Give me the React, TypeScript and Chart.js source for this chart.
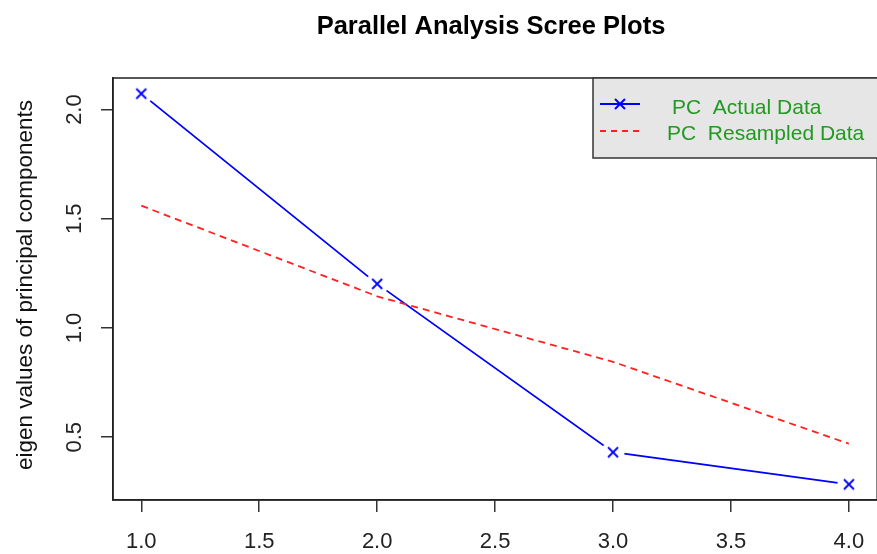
import React, { useEffect, useRef } from 'react';
import { Chart, registerables } from 'chart.js';

Chart.register(...registerables);

const components = [1, 2, 3, 4];
const actualData = [2.073, 1.202, 0.431, 0.284];
const resampledData = [1.56, 1.145, 0.845, 0.47];
const xTicks = [1.0, 1.5, 2.0, 2.5, 3.0, 3.5, 4.0];
const yTicks = [0.5, 1.0, 1.5, 2.0];
const titleText = 'Parallel Analysis Scree Plots';
const yAxisTitle = 'eigen values of principal components';
const legendLabels = ['PC  Actual Data', 'PC  Resampled Data'];

const FONT = '"Liberation Sans", Arial, Helvetica, sans-serif';
const CANVAS_W = 890;
const CANVAS_H = 554;

function makeCross(color: string) {
  const c = document.createElement('canvas');
  c.width = 26;
  c.height = 26;
  const g = c.getContext('2d')!;
  g.fillStyle = '#ffffff';
  g.beginPath();
  g.arc(13, 13, 11.5, 0, Math.PI * 2);
  g.fill();
  g.strokeStyle = color;
  g.lineWidth = 1.8;
  g.beginPath();
  g.moveTo(8, 8);
  g.lineTo(18, 18);
  g.moveTo(18, 8);
  g.lineTo(8, 18);
  g.stroke();
  return c;
}

const decorPlugin = {
  id: 'decor',
  afterDraw(chart: any) {
    const ctx = chart.ctx as CanvasRenderingContext2D;
    const a = chart.chartArea;
    const ys = chart.scales.y;
    ctx.save();
    // plot box
    ctx.strokeStyle = '#222';
    ctx.lineWidth = 1.5;
    ctx.strokeRect(a.left, a.top, a.right - a.left, a.bottom - a.top);

    // title
    ctx.fillStyle = '#000';
    ctx.font = `bold 25.5px ${FONT}`;
    ctx.textAlign = 'center';
    ctx.textBaseline = 'alphabetic';
    ctx.fillText(titleText, 491, 34);

    // y tick labels (rotated like R)
    ctx.font = `22px ${FONT}`;
    ctx.fillStyle = '#222';
    yTicks.forEach((v) => {
      const py = ys.getPixelForValue(v);
      ctx.save();
      ctx.translate(81, py);
      ctx.rotate(-Math.PI / 2);
      ctx.textAlign = 'center';
      ctx.textBaseline = 'alphabetic';
      ctx.fillText(v.toFixed(1), 0, 0);
      ctx.restore();
    });

    // y axis title
    ctx.save();
    ctx.translate(32, (a.top + a.bottom) / 2 - 4);
    ctx.rotate(-Math.PI / 2);
    ctx.textAlign = 'center';
    ctx.textBaseline = 'alphabetic';
    ctx.fillStyle = '#111';
    ctx.font = `22.5px ${FONT}`;
    ctx.fillText(yAxisTitle, 0, 0);
    ctx.restore();

    // legend
    const lx = 593;
    const ly = 78;
    ctx.fillStyle = '#e6e6e6';
    ctx.fillRect(lx, ly, CANVAS_W - lx + 5, 80);
    ctx.strokeStyle = '#333';
    ctx.lineWidth = 1.5;
    ctx.strokeRect(lx, ly, CANVAS_W - lx + 5, 80);

    // actual data sample
    ctx.strokeStyle = 'blue';
    ctx.lineWidth = 1.8;
    ctx.beginPath();
    ctx.moveTo(600, 104);
    ctx.lineTo(640, 104);
    ctx.stroke();
    ctx.lineWidth = 2;
    ctx.beginPath();
    ctx.moveTo(615, 99);
    ctx.lineTo(625, 109);
    ctx.moveTo(625, 99);
    ctx.lineTo(615, 109);
    ctx.stroke();

    // resampled sample
    ctx.strokeStyle = '#ff2020';
    ctx.lineWidth = 1.8;
    ctx.setLineDash([6, 5]);
    ctx.beginPath();
    ctx.moveTo(600, 131);
    ctx.lineTo(640, 131);
    ctx.stroke();
    ctx.setLineDash([]);

    ctx.fillStyle = '#229922';
    ctx.font = `21px ${FONT}`;
    ctx.textAlign = 'left';
    ctx.textBaseline = 'alphabetic';
    ctx.fillText(legendLabels[0], 672, 114);
    ctx.fillText(legendLabels[1], 667, 140);

    ctx.restore();
  },
};

export default function App() {
  const ref = useRef<HTMLCanvasElement | null>(null);

  useEffect(() => {
    if (!ref.current) return;
    const cross = makeCross('blue');
    const chart = new Chart(ref.current, {
      type: 'line',
      data: {
        datasets: [
          {
            label: legendLabels[1],
            data: components.map((c, i) => ({ x: c, y: resampledData[i] })),
            borderColor: '#ff2020',
            borderWidth: 1.8,
            borderDash: [7, 5],
            pointRadius: 0,
            fill: false,
            tension: 0,
            order: 0,
          },
          {
            label: legendLabels[0],
            data: components.map((c, i) => ({ x: c, y: actualData[i] })),
            borderColor: 'blue',
            borderWidth: 1.8,
            pointStyle: cross as any,
            pointRadius: 11,
            fill: false,
            tension: 0,
            order: 1,
          },
        ],
      },
      options: {
        responsive: false,
        animation: false,
        devicePixelRatio: 1,
        layout: { padding: { left: 0, top: 78, right: CANVAS_W - 881, bottom: 0 } },
        plugins: {
          legend: { display: false },
          title: { display: false },
          tooltip: { enabled: false },
        },
        scales: {
          x: {
            type: 'linear',
            min: 0.88,
            max: 4.12,
            afterBuildTicks: (s: any) => {
              s.ticks = xTicks.map((v) => ({ value: v }));
            },
            afterFit: (s: any) => {
              s.height = CANVAS_H - 500;
            },
            grid: {
              drawOnChartArea: false,
              drawTicks: true,
              tickLength: 12,
              color: '#333',
              lineWidth: 1.5,
            },
            border: { display: true, color: '#222', width: 1.5 },
            ticks: {
              padding: 17,
              color: '#222',
              font: { family: FONT, size: 22 },
              maxRotation: 0,
              autoSkip: false,
              callback: (v: any) => Number(v).toFixed(1),
            },
          },
          y: {
            type: 'linear',
            min: 0.2124,
            max: 2.1446,
            afterBuildTicks: (s: any) => {
              s.ticks = yTicks.map((v) => ({ value: v }));
            },
            afterFit: (s: any) => {
              s.width = 113;
            },
            grid: {
              drawOnChartArea: false,
              drawTicks: true,
              tickLength: 12,
              color: '#333',
              lineWidth: 1.5,
            },
            border: { display: true, color: '#222', width: 1.5 },
            ticks: { display: false },
          },
        },
      },
      plugins: [decorPlugin],
    });
    return () => chart.destroy();
  }, []);

  return (
    <div
      style={{
        position: 'absolute',
        left: 0,
        top: 0,
        width: 877,
        height: 554,
        overflow: 'hidden',
        background: '#fff',
      }}
    >
      <canvas ref={ref} width={CANVAS_W} height={CANVAS_H} style={{ width: CANVAS_W, height: CANVAS_H, display: 'block' }} />
    </div>
  );
}
